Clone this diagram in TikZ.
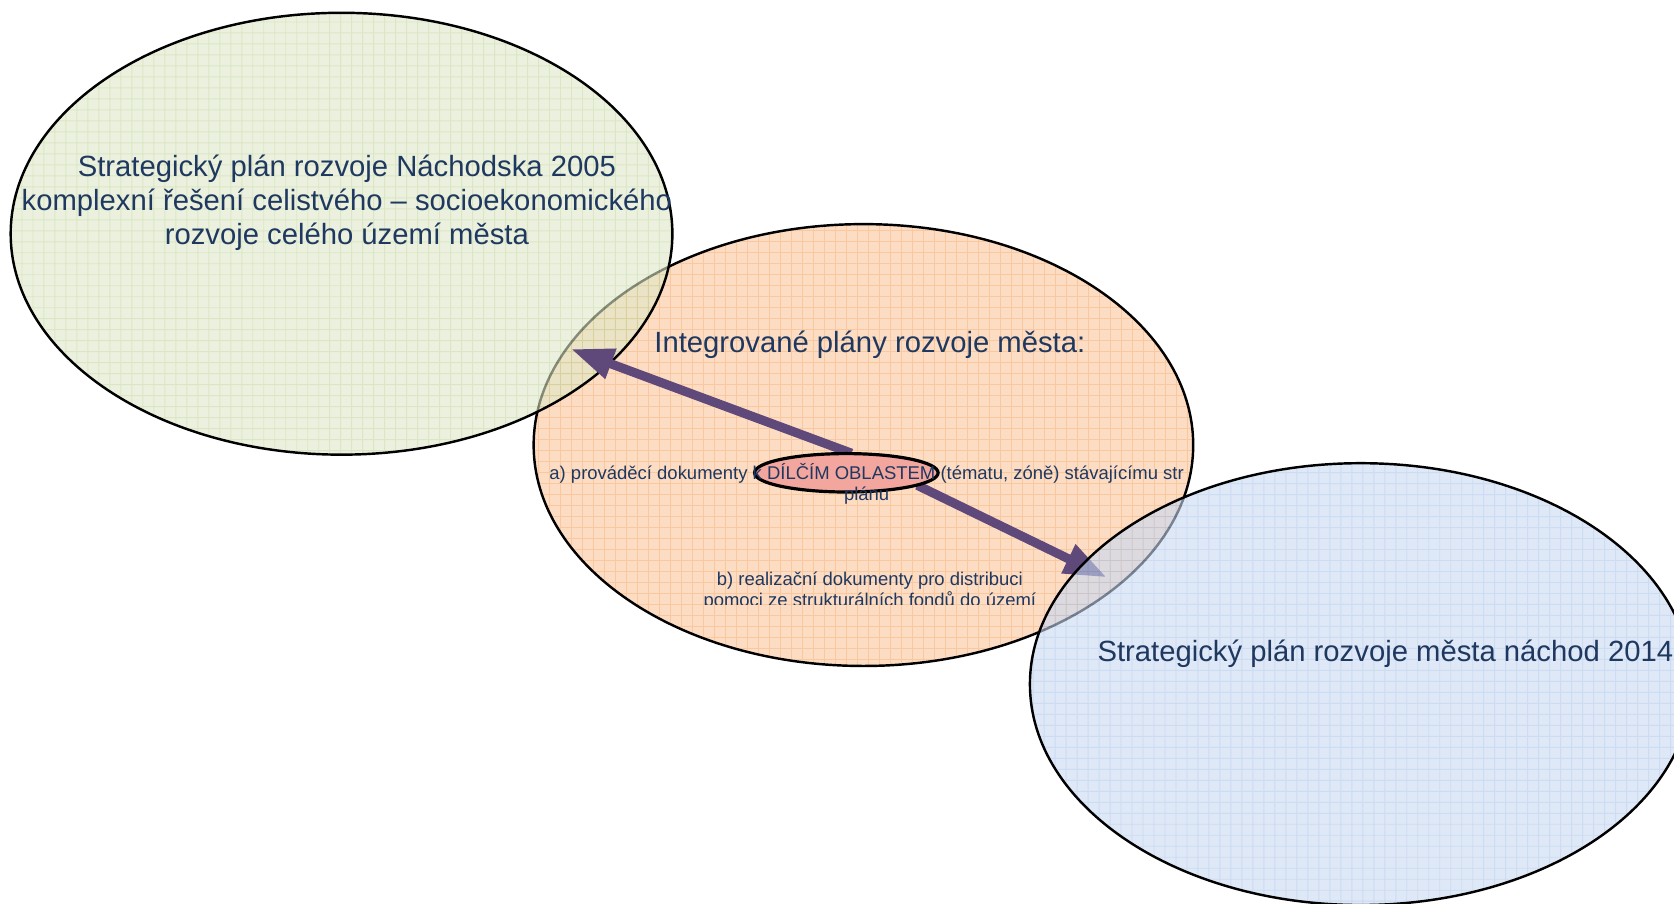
\documentclass[tikz,border=0pt]{standalone}
\usepackage{fontspec}
\setmainfont{Liberation Sans}
\usetikzlibrary{shapes.geometric,arrows.meta}
\definecolor{txtblue}{RGB}{31,56,96}
\definecolor{grnfill}{RGB}{222,232,200}
\definecolor{grngrid}{RGB}{195,214,158}
\definecolor{orgfill}{RGB}{252,221,196}
\definecolor{orggrid}{RGB}{250,200,158}
\definecolor{blufill}{RGB}{200,217,240}
\definecolor{blugrid}{RGB}{170,196,234}
\definecolor{oblfill}{RGB}{242,166,158}
\definecolor{arrpurple}{RGB}{95,73,122}

\tikzset{
  bigtext/.style={text=txtblue, font=\fontsize{15.6}{17.9}\selectfont, align=center, inner sep=0pt},
  smalltext/.style={text=txtblue, font=\fontsize{9.85}{11.1}\selectfont, align=center, inner sep=0pt},
  gridlines/.style={line width=0.5pt, step=0.206cm},
  bigarrow/.style={line width=0.17cm, arrpurple, -{Triangle[length=0.8cm,width=0.56cm]}},
}

\begin{document}
\begin{tikzpicture}[x=0.02cm,y=-0.02cm]
\useasboundingbox (0,0) rectangle (1568.5,846.1);
% middle ellipse
\begin{scope}
  \clip (809,417) ellipse [x radius=309, y radius=207];
  \fill[orgfill] (490,200) rectangle (1130,640);
  \draw[orggrid, gridlines] (490,640) grid (1130,200);
\end{scope}
\draw[line width=1.3pt] (809,417) ellipse [x radius=309, y radius=207];
% left ellipse
\begin{scope}[transparency group, opacity=0.6]
  \clip (320,219) ellipse [x radius=310, y radius=207];
  \fill[grnfill] (0,0) rectangle (640,440);
  \draw[grngrid, gridlines] (0,440) grid (640,0);
\end{scope}
\draw[line width=1.3pt] (320,219) ellipse [x radius=310, y radius=207];
% small ellipse and arrows
\node [ellipse, minimum width=3.44cm, minimum height=0.72cm] (obl) at (793,443) {};
\coordinate (tipL) at (535,327);
\coordinate (tipR) at (1037,541);
\draw [bigarrow] (obl.75) -- (tipL);
\draw [bigarrow] (obl.-10) -- (tipR);
% right ellipse
\begin{scope}[transparency group, opacity=0.6]
  \clip (1275,641) ellipse [x radius=310, y radius=207];
  \fill[blufill] (960,430) rectangle (1590,860);
  \draw[blugrid, gridlines] (960,860) grid (1590,430);
\end{scope}
\draw[line width=1.3pt] (1275,641) ellipse [x radius=310, y radius=207];
\draw [fill=oblfill, line width=1.7pt] (obl.center) ellipse [x radius=86, y radius=18];
% texts
\node [bigtext] (nachodska) at (325,190) {Strategický plán rozvoje Náchodska 2005\\komplexní řešení celistvého – socioekonomického\\rozvoje celého území města};
\node [bigtext] (ipr) at (815,323) {Integrované plány rozvoje města:};
\node [smalltext] (dilci) at (812,453) {a) prováděcí dokumenty k DÍLČÍM OBLASTEM (tématu, zóně) stávajícímu str\\plánu};
\begin{scope}
  \clip (600,520) rectangle (1050,566);
  \node [smalltext] (realiz) at (815,554) {b) realizační dokumenty pro distribuci\\pomoci ze strukturálních fondů do území};
\end{scope}
\node [bigtext, anchor=west] (sp2014) at (1028,613) {Strategický plán rozvoje města náchod 2014};
\end{tikzpicture}
\end{document}
